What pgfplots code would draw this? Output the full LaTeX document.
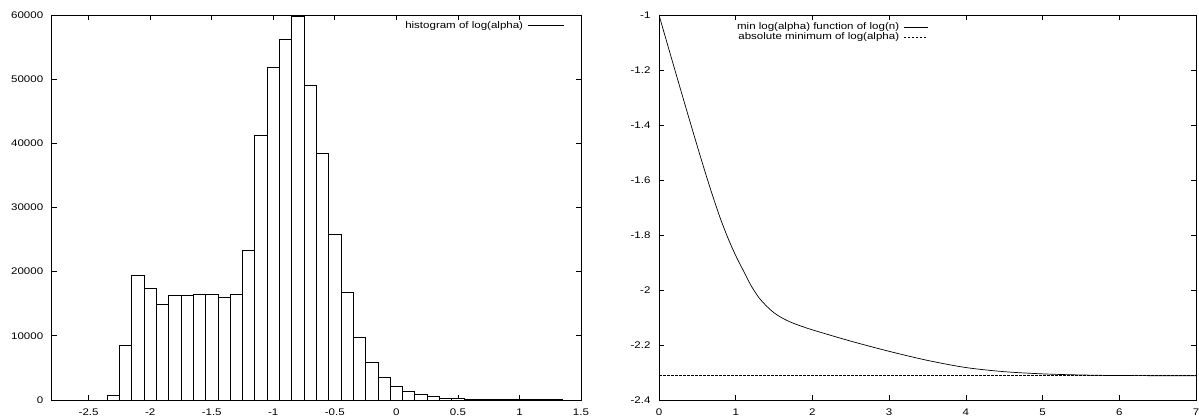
\documentclass[border=0pt]{standalone}
\usepackage{fontspec}
\setmainfont{Liberation Sans}[FakeStretch=1.2]
\usepackage{pgfplots}
\usepackage{pgfplotstable}
\pgfplotsset{compat=1.18}

% histogram of log(alpha): bin centre, count
\pgfplotstableread{
x y
-2.3 780
-2.2 8520
-2.1 19450
-2.0 17450
-1.9 14850
-1.8 16360
-1.7 16310
-1.6 16460
-1.5 16460
-1.4 16000
-1.3 16460
-1.2 23320
-1.1 41300
-1.0 51800
-0.9 56200
-0.8 59750
-0.7 49000
-0.6 38500
-0.5 25750
-0.4 16800
-0.3 9770
-0.2 5850
-0.1 3520
0.0 2150
0.1 1340
0.2 860
0.3 560
0.4 310
0.5 190
0.6 130
0.7 100
0.8 80
0.9 60
1.0 50
1.1 40
1.2 30
1.3 25
1.4 20
1.5 15
}\histdata

% min log(alpha) as function of log(n)
\pgfplotstableread{
x y
0.0 -1.000
0.1 -1.097
0.2 -1.193
0.3 -1.289
0.4 -1.384
0.5 -1.478
0.6 -1.570
0.7 -1.658
0.8 -1.740
0.9 -1.812
1.0 -1.875
1.1 -1.930
1.2 -1.984
1.3 -2.027
1.4 -2.058
1.5 -2.083
1.6 -2.101
1.7 -2.115
1.8 -2.126
2.0 -2.145
2.5 -2.186
3.0 -2.223
3.5 -2.256
4.0 -2.282
4.5 -2.297
5.0 -2.305
5.5 -2.309
6.0 -2.311
7.0 -2.312
}\mincurve

\pgfplotsset{gp/.style={
  scale only axis,
  axis line style={line width=0.7pt},
  tick align=inside,
  major tick length=5pt,
  tick style={line width=0.7pt,black},
  minor tick num=0,
  ticklabel style={font=\fontsize{9.6}{11}\selectfont},
  xticklabel style={yshift=-5pt},
  yticklabel style={xshift=-5pt},
  scaled ticks=false,
  /pgf/number format/assume math mode=true,
  /pgf/number format/fixed,
  /pgf/number format/1000 sep={},
  legend plot pos=right,
  legend cell align=right,
  legend style={draw=none,fill=none,inner sep=0pt,
    font=\fontsize{9.6}{11}\selectfont,
    nodes={inner sep=1.5pt},row sep=-1.5pt,
    /tikz/every odd column/.append style={column sep=3pt}},
}}

\begin{document}
\begin{tikzpicture}
\path[use as bounding box] (0pt,0pt) rectangle (1199pt,420pt);

\begin{axis}[gp,at={(51.7pt,20pt)},anchor=south west,
  width=529.3pt,height=385pt,
  xmin=-2.8,xmax=1.5,ymin=0,ymax=60000,
  xtick={-2.5,-2,-1.5,-1,-0.5,0,0.5,1,1.5},
  ytick={0,10000,20000,30000,40000,50000,60000},
  legend style={at={(0.9688,0.9727)},anchor=east}]
\addplot[ybar,bar width=0.1,bar shift=0pt,fill=white,draw=black,line width=0.7pt,
  legend image code/.code={\draw[black,line width=0.7pt] (0pt,0pt) -- (36pt,0pt);}]
  table {\histdata};
\addlegendentry{histogram of log(alpha)}
\end{axis}

\begin{axis}[gp,at={(659pt,20pt)},anchor=south west,
  width=537pt,height=385pt,
  xmin=0,xmax=7,ymin=-2.4,ymax=-1,
  xtick={0,1,2,3,4,5,6,7},
  ytick={-2.4,-2.2,-2,-1.8,-1.6,-1.4,-1.2,-1},
  legend style={at={(0.5019,0.9558)},anchor=east},
  legend image code/.code={\draw[#1] (0pt,0pt) -- (24pt,0pt);}]
\addplot[black,line width=0.7pt,smooth] table {\mincurve};
\addlegendentry{min log(alpha) function of log(n)}
\addplot[black,line width=0.7pt,dash pattern=on 2.5pt off 1.5pt] coordinates {(0,-2.312) (7,-2.312)};
\addlegendentry{absolute minimum of log(alpha)}
\end{axis}
\end{tikzpicture}
\end{document}
